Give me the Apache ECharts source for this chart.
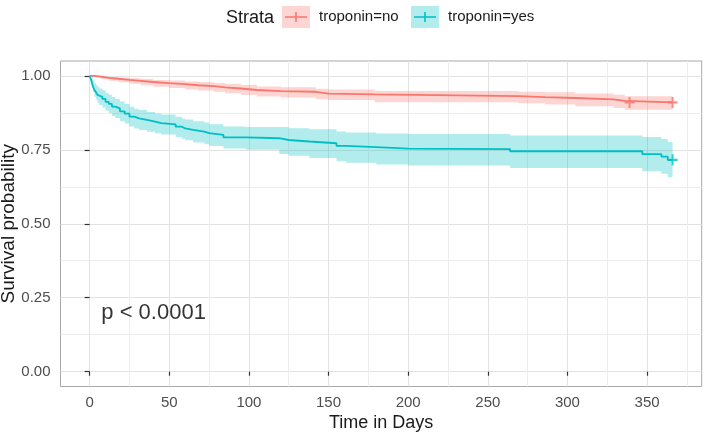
<!DOCTYPE html>
<html><head><meta charset="utf-8">
<script src="https://cdn.jsdelivr.net/npm/echarts@6/dist/echarts.min.js"></script>
<style>html,body{margin:0;padding:0;background:#fff}#c{width:709px;height:440px}</style>
</head><body><div id="c"></div>
<script>
// ---- data ----
const strata = ['troponin=no', 'troponin=yes'];
const strataColors = ['#F8766D', '#00BFC4'];
const xTicks = [0, 50, 100, 150, 200, 250, 300, 350];
const xMinorTicks = [25, 75, 125, 175, 225, 275, 325, 375];
const yTicks = [0, 0.25, 0.5, 0.75, 1];
const yMinorTicks = [0.125, 0.375, 0.625, 0.875];
const pLabel = 'p < 0.0001';
const pPos = [7.32, 0.2];

const timeNo  = [0, 3, 7, 12, 18, 25, 32, 40, 50, 60, 68, 78, 85, 95, 105, 120, 142, 150, 179, 269, 286, 305, 329, 336, 366];
const survNo  = [1, 0.997, 0.993, 0.990, 0.986, 0.983, 0.979, 0.975, 0.972, 0.968, 0.965, 0.961, 0.957, 0.952, 0.948, 0.946, 0.940, 0.937, 0.931, 0.928, 0.925, 0.920, 0.915, 0.910, 0.910];
const upperNo = [1, 1.000, 0.998, 0.996, 0.994, 0.992, 0.989, 0.986, 0.984, 0.981, 0.979, 0.976, 0.973, 0.969, 0.964, 0.961, 0.956, 0.954, 0.949, 0.946, 0.944, 0.940, 0.936, 0.931, 0.931];
const lowerNo = [1, 0.994, 0.988, 0.983, 0.978, 0.973, 0.968, 0.963, 0.959, 0.954, 0.950, 0.946, 0.941, 0.935, 0.930, 0.927, 0.921, 0.918, 0.911, 0.907, 0.903, 0.897, 0.891, 0.885, 0.885];

const timeYes  = [0, 1, 2, 3, 4, 5, 6, 8, 10, 12, 14, 16, 19, 22, 25, 28, 31, 36, 41, 45, 54, 58, 60, 65, 72, 75, 84, 98, 119, 125, 138, 155, 161, 180, 200, 264, 347, 359, 363, 366];
const survYes  = [1, 0.985, 0.965, 0.952, 0.944, 0.935, 0.929, 0.922, 0.912, 0.905, 0.896, 0.890, 0.880, 0.872, 0.862, 0.856, 0.851, 0.845, 0.840, 0.836, 0.828, 0.822, 0.817, 0.811, 0.806, 0.800, 0.792, 0.789, 0.783, 0.778, 0.772, 0.763, 0.759, 0.754, 0.752, 0.745, 0.735, 0.727, 0.716, 0.716];
const upperYes = [1, 0.997, 0.986, 0.976, 0.969, 0.962, 0.957, 0.951, 0.942, 0.936, 0.928, 0.922, 0.913, 0.905, 0.895, 0.889, 0.884, 0.878, 0.873, 0.869, 0.862, 0.856, 0.852, 0.846, 0.842, 0.836, 0.829, 0.827, 0.827, 0.823, 0.819, 0.812, 0.808, 0.805, 0.803, 0.798, 0.793, 0.786, 0.776, 0.776];
const lowerYes = [1, 0.972, 0.945, 0.929, 0.920, 0.909, 0.901, 0.893, 0.882, 0.874, 0.864, 0.857, 0.847, 0.839, 0.829, 0.822, 0.817, 0.811, 0.806, 0.802, 0.793, 0.787, 0.782, 0.775, 0.769, 0.763, 0.754, 0.750, 0.736, 0.730, 0.722, 0.711, 0.706, 0.700, 0.697, 0.688, 0.677, 0.669, 0.657, 0.657];

const censorNoT = [339, 366];
const censorNoS = [0.910, 0.910];
const censorYesT = [366];
const censorYesS = [0.716];

// ---- build ----
const FONT = 'Liberation Sans, Arial, sans-serif';
const plusPath = 'path://M4,0 L6,0 L6,4 L10,4 L10,6 L6,6 L6,10 L4,10 L4,6 L0,6 L0,4 L4,4 Z';
const keyIcon = 'path://M0,0 L0.01,0 L0,0.01 Z M32,22 L31.99,22 L32,21.99 Z ' +
  'M3,10.2 L13.2,10.2 L13.2,6 L14.8,6 L14.8,10.2 L25,10.2 L25,11.8 L14.8,11.8 L14.8,16 L13.2,16 L13.2,11.8 L3,11.8 Z';

const zip = (a, b) => a.map((v, i) => [v, b[i]]);
function rgba(hex, a) {
  const n = parseInt(hex.slice(1), 16);
  return `rgba(${n >> 16},${(n >> 8) & 255},${n & 255},${a})`;
}

const groups = [
  {name: strata[0], c: strataColors[0], t: timeNo, s: survNo, u: upperNo, l: lowerNo, ct: censorNoT, cs: censorNoS},
  {name: strata[1], c: strataColors[1], t: timeYes, s: survYes, u: upperYes, l: lowerYes, ct: censorYesT, cs: censorYesS}
];

const series = [];
groups.forEach((g, i) => {
  series.push({
    name: 'ci' + i, type: 'custom', silent: true, z: 1, clip: true,
    data: g.t.map((v, k) => [v, g.l[k], g.u[k]]),
    encode: {x: 0, y: [1, 2]},
    renderItem: function (params, api) {
      if (params.dataIndex !== 0) return null;
      const n = g.t.length;
      const top = [], bot = [];
      for (let k = 0; k < n; k++) {
        top.push(api.coord([g.t[k], g.u[k]]));
        if (k < n - 1) top.push(api.coord([g.t[k + 1], g.u[k]]));
        bot.push(api.coord([g.t[k], g.l[k]]));
        if (k < n - 1) bot.push(api.coord([g.t[k + 1], g.l[k]]));
      }
      return {type: 'polygon', shape: {points: top.concat(bot.reverse())},
        style: {fill: rgba(g.c, 0.3), stroke: null}};
    }
  });
});
groups.forEach((g) => {
  series.push({
    name: g.name, type: 'line', step: 'end', data: zip(g.t, g.s), showSymbol: false,
    lineStyle: {color: g.c, width: 1.8}, itemStyle: {color: g.c}, z: 3
  });
  series.push({
    name: g.name + ' censor', type: 'scatter', data: zip(g.ct, g.cs), symbol: plusPath,
    symbolSize: [10, 11], itemStyle: {color: g.c}, z: 4
  });
});
series.push({
  name: 'pval', type: 'scatter', data: [pPos], symbolSize: 0, z: 5,
  label: {show: true, position: 'right', distance: 0, formatter: pLabel,
    fontFamily: FONT, fontSize: 22, color: '#000'}
});

const xCommon = {type: 'value', min: -18.3, max: 384.3, gridIndex: 0};
const yCommon = {type: 'value', min: -0.05, max: 1.05, gridIndex: 0};

const option = {
  animation: false,
  backgroundColor: '#fff',
  title: {text: 'Strata', left: 226, top: 9, padding: 0,
    textStyle: {fontFamily: FONT, fontSize: 18, fontWeight: 'normal', color: '#1a1a1a'}},
  graphic: [
    {type: 'rect', left: 282, top: 6, shape: {width: 28, height: 22}, style: {fill: rgba(strataColors[0], 0.3)}, z: 0},
    {type: 'rect', left: 411, top: 6, shape: {width: 28, height: 22}, style: {fill: rgba(strataColors[1], 0.3)}, z: 0}
  ],
  legend: groups.map((g, i) => ({
    data: [{name: g.name, icon: keyIcon, itemStyle: {color: g.c}}],
    left: i === 0 ? 282 : 411, top: 6, padding: 0, itemWidth: 32, itemHeight: 22,
    selectedMode: false, z: 10,
    textStyle: {fontFamily: FONT, fontSize: 15, color: '#1a1a1a'}
  })),
  grid: {left: 60.5, right: 7.3, top: 61, bottom: 53.5, show: true, borderColor: '#a8a8a8', borderWidth: 1,
    backgroundColor: '#fff', containLabel: false, outerBoundsMode: 'none'},
  xAxis: [
    Object.assign({}, xCommon, {
      name: 'Time in Days', nameLocation: 'middle', nameGap: 28, nameMoveOverlap: false,
      nameTextStyle: {fontFamily: FONT, fontSize: 18, color: '#1a1a1a'},
      axisLine: {show: false},
      axisTick: {show: true, length: 4, customValues: xTicks, lineStyle: {color: '#333', width: 1.2}},
      axisLabel: {customValues: xTicks, margin: 9, fontFamily: FONT, fontSize: 15, color: '#4d4d4d'},
      splitLine: {show: true, lineStyle: {color: '#e2e2e2', width: 1}}
    }),
    Object.assign({}, xCommon, {
      axisLine: {show: false}, axisLabel: {show: false},
      axisTick: {show: false, customValues: xMinorTicks},
      splitLine: {show: true, lineStyle: {color: '#ededed', width: 1}}
    })
  ],
  yAxis: [
    Object.assign({}, yCommon, {
      name: 'Survival probability', nameLocation: 'middle', nameGap: 42, nameMoveOverlap: false,
      nameTextStyle: {fontFamily: FONT, fontSize: 19, color: '#1a1a1a'},
      axisLine: {show: false},
      axisTick: {show: true, length: 5, customValues: yTicks, lineStyle: {color: '#333', width: 1.2}},
      axisLabel: {customValues: yTicks, margin: 10, fontFamily: FONT, fontSize: 15, color: '#4d4d4d',
        formatter: v => v.toFixed(2)},
      splitLine: {show: true, lineStyle: {color: '#e2e2e2', width: 1}}
    }),
    Object.assign({}, yCommon, {
      axisLine: {show: false}, axisLabel: {show: false},
      axisTick: {show: false, customValues: yMinorTicks},
      splitLine: {show: true, lineStyle: {color: '#ededed', width: 1}}
    })
  ],
  series: series
};

const chart = echarts.init(document.getElementById('c'), null, {renderer: 'canvas'});
chart.setOption(option);
</script>
</body></html>
